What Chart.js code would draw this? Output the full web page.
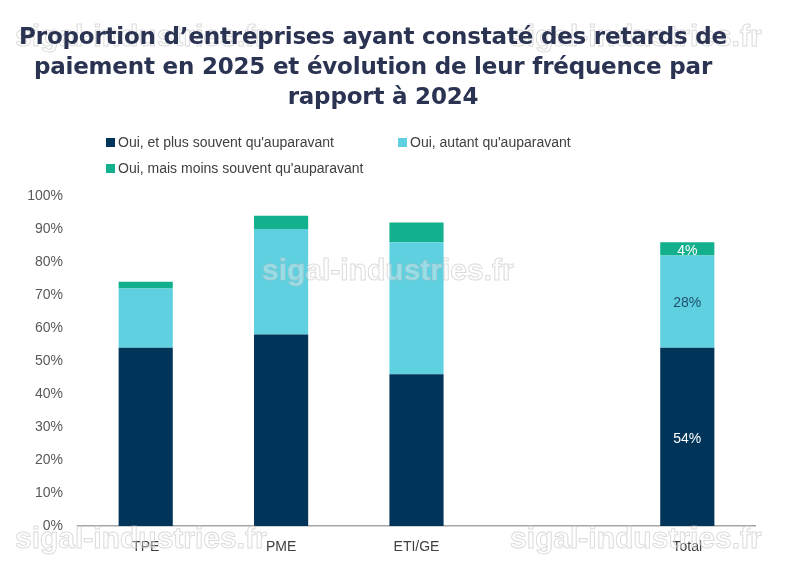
<!DOCTYPE html>
<html>
<head>
<meta charset="utf-8">
<script src="https://cdn.jsdelivr.net/npm/chart.js@4"></script>
<style>
  html, body { margin: 0; padding: 0; background: #fff; }
  #wrap { position: relative; width: 786px; height: 565px; overflow: hidden; }
  #chart { position: absolute; left: 0; top: 0; }
  #title {
    position: absolute; left: 0; top: 21px; width: 746px; text-align: center;
    font-family: "DejaVu Sans", sans-serif; font-weight: 700; font-size: 23px;
    line-height: 30px; color: #2b3352; letter-spacing: -0.2px;
  }
  .leg { position: absolute; font-family: "Liberation Sans", Arial, sans-serif; font-size: 14px; color: #404040; white-space: nowrap; }
  .leg span { display: inline-block; width: 9px; height: 9px; margin-right: 3px; vertical-align: 0px; }
</style>
</head>
<body>
<div id="wrap">
  <canvas id="chart" width="786" height="565"></canvas>
  <div id="title">Proportion d’entreprises ayant constaté des retards de<br>paiement en 2025 et évolution de leur fréquence par<br><span style="position:relative; left:10px;">rapport à 2024</span></div>
  <div class="leg" style="left:106px; top:134px;"><span style="background:#003459"></span>Oui, et plus souvent qu'auparavant</div>
  <div class="leg" style="left:398px; top:134px;"><span style="background:#5fd0e0"></span>Oui, autant qu'auparavant</div>
  <div class="leg" style="left:106px; top:160px;"><span style="background:#12b08c"></span>Oui, mais moins souvent qu'auparavant</div>
</div>
<script>
const categories = ["TPE", "PME", "ETI/GE", "", "Total"];
const plusSouvent = [54, 58, 46, null, 54];
const autant = [18, 32, 40, null, 28];
const moinsSouvent = [2, 4, 6, null, 4];
const seriesNames = ["Oui, et plus souvent qu'auparavant", "Oui, autant qu'auparavant", "Oui, mais moins souvent qu'auparavant"];
const yTicks = [0, 10, 20, 30, 40, 50, 60, 70, 80, 90, 100];

// labels only shown on the Total bar
const labelColors = ["#ffffff", "#1f4e6e", "#ffffff"];
const totalLabels = {
  id: "totalLabels",
  afterDatasetsDraw(chart) {
    const ctx = chart.ctx;
    const idx = categories.indexOf("Total");
    ctx.save();
    ctx.font = "14px 'Liberation Sans', Arial, sans-serif";
    ctx.textAlign = "center";
    ctx.textBaseline = "middle";
    chart.data.datasets.forEach(function (ds, i) {
      const bar = chart.getDatasetMeta(i).data[idx];
      const c = bar.getCenterPoint();
      ctx.fillStyle = labelColors[i];
      ctx.fillText(ds.data[idx] + "%", c.x, c.y + 2);
    });
    ctx.restore();
  },
};

// site watermark
const watermark = {
  id: "watermark",
  afterDraw(chart) {
    const ctx = chart.ctx;
    ctx.save();
    ctx.font = "bold 30px 'Liberation Sans', Arial, sans-serif";
    ctx.textBaseline = "middle";
    ctx.lineWidth = 1;
    ctx.strokeStyle = "rgba(190,190,190,0.55)";
    ctx.fillStyle = "rgba(255,255,255,0.35)";
    [[15, 38], [510, 38], [262, 272], [15, 540], [510, 540]].forEach(function (p) {
      ctx.fillText("sigal-industries.fr", p[0], p[1]);
      ctx.strokeText("sigal-industries.fr", p[0], p[1]);
    });
    ctx.restore();
  },
};

const ctx = document.getElementById("chart").getContext("2d");
new Chart(ctx, {
  type: "bar",
  data: {
    labels: categories,
    datasets: [
      { label: seriesNames[0], data: plusSouvent, backgroundColor: "#003459" },
      { label: seriesNames[1], data: autant, backgroundColor: "#5fd0e0" },
      { label: seriesNames[2], data: moinsSouvent, backgroundColor: "#12b08c" },
    ],
  },
  options: {
    responsive: false,
    animation: false,
    layout: { padding: { top: 196, right: 31, bottom: 0, left: 0 } },
    datasets: { bar: { categoryPercentage: 1, barPercentage: 0.4 } },
    plugins: { legend: { display: false }, title: { display: false }, tooltip: { enabled: false } },
    scales: {
      x: {
        stacked: true,
        grid: { display: false },
        border: { display: true, color: "#a6a6a6", width: 1.5 },
        ticks: { color: "#404040", font: { family: "'Liberation Sans', Arial, sans-serif", size: 14 }, padding: 5 },
        afterFit(scale) { scale.height = 39; },
      },
      y: {
        stacked: true,
        min: 0,
        max: 100,
        grid: { display: false, drawTicks: false },
        border: { display: false },
        afterBuildTicks(scale) { scale.ticks = yTicks.map(function (v) { return { value: v }; }); },
        ticks: {
          color: "#595959",
          padding: 15,
          font: { family: "'Liberation Sans', Arial, sans-serif", size: 14 },
          callback: function (v) { return v + "%"; },
        },
        afterFit(scale) { scale.width = 78; },
      },
    },
  },
  plugins: [totalLabels, watermark],
});
</script>
</body>
</html>
